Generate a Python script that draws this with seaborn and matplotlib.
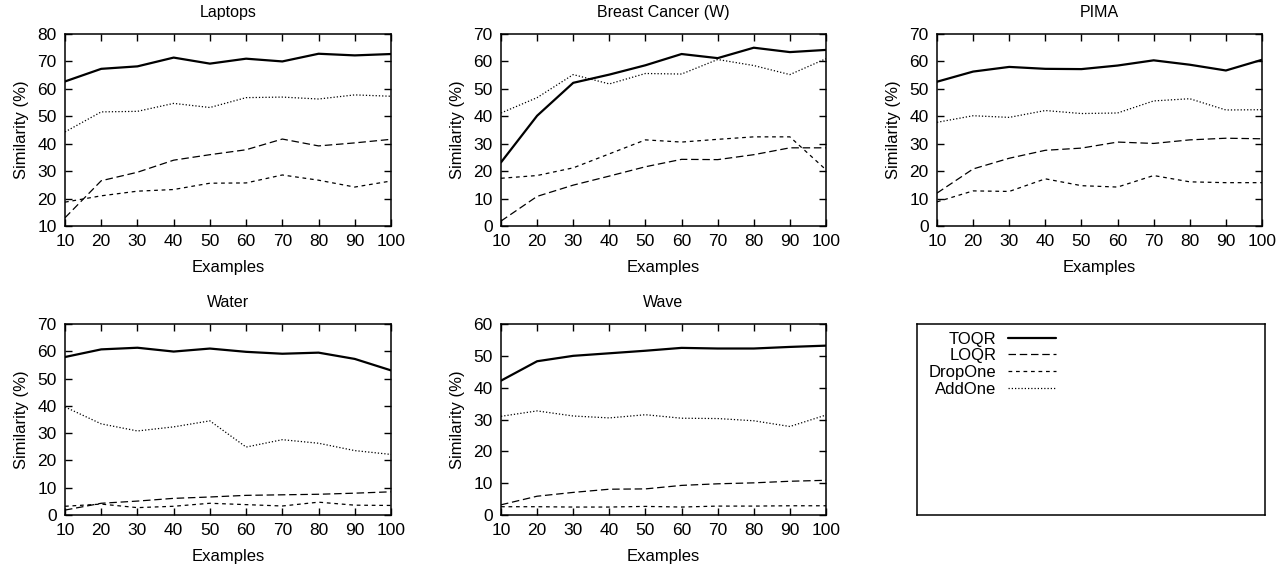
import pandas as pd
import seaborn as sns
import matplotlib.pyplot as plt
from matplotlib.lines import Line2D

examples = [10, 20, 30, 40, 50, 60, 70, 80, 90, 100]
methods = ['TOQR', 'LOQR', 'DropOne', 'AddOne']

# Laptops
laptops_toqr = [62.7, 67.3, 68.2, 71.4, 69.2, 71.0, 70.0, 72.8, 72.2, 72.7]
laptops_loqr = [13.0, 26.5, 29.6, 34.0, 36.0, 37.8, 41.7, 39.2, 40.3, 41.6]
laptops_dropone = [18.7, 21.0, 22.7, 23.3, 25.6, 25.7, 28.6, 26.7, 24.2, 26.4]
laptops_addone = [44.3, 51.6, 51.8, 54.7, 53.2, 56.8, 57.0, 56.3, 57.8, 57.3]

# Breast Cancer (W)
breast_toqr = [23.2, 40.2, 52.2, 55.2, 58.6, 62.7, 61.2, 65.0, 63.4, 64.2]
breast_loqr = [1.8, 10.8, 14.9, 18.2, 21.6, 24.3, 24.2, 26.0, 28.5, 28.5]
breast_dropone = [17.4, 18.4, 21.2, 26.3, 31.4, 30.6, 31.6, 32.5, 32.5, 20.5]
breast_addone = [41.2, 46.8, 55.2, 51.8, 55.6, 55.4, 60.7, 58.5, 55.2, 61.0]

# PIMA
pima_toqr = [52.6, 56.3, 58.0, 57.3, 57.2, 58.5, 60.4, 58.8, 56.7, 60.6]
pima_loqr = [12.0, 20.8, 24.7, 27.6, 28.4, 30.6, 30.1, 31.4, 32.0, 31.8]
pima_dropone = [8.8, 12.8, 12.6, 17.2, 14.7, 14.2, 18.4, 16.1, 15.8, 15.8]
pima_addone = [37.8, 40.2, 39.6, 42.1, 41.0, 41.2, 45.6, 46.4, 42.3, 42.4]

# Water
water_toqr = [57.9, 60.7, 61.3, 59.9, 61.0, 59.8, 59.1, 59.5, 57.2, 53.0]
water_loqr = [1.8, 4.3, 5.1, 6.1, 6.6, 7.2, 7.4, 7.6, 8.0, 8.5]
water_dropone = [3.2, 4.0, 2.7, 3.2, 4.3, 3.8, 3.3, 4.7, 3.6, 3.5]
water_addone = [39.6, 33.4, 30.8, 32.3, 34.5, 24.9, 27.6, 26.3, 23.6, 22.2]

# Wave
wave_toqr = [42.2, 48.3, 50.0, 50.8, 51.6, 52.5, 52.3, 52.3, 52.8, 53.2]
wave_loqr = [3.2, 5.9, 7.1, 8.1, 8.2, 9.3, 9.8, 10.1, 10.6, 10.9]
wave_dropone = [2.6, 2.6, 2.5, 2.5, 2.7, 2.5, 2.8, 2.8, 2.9, 2.9]
wave_addone = [31.0, 32.7, 31.1, 30.5, 31.5, 30.4, 30.3, 29.6, 27.8, 31.4]

panels = [
    ('Laptops', (10, 80), [laptops_toqr, laptops_loqr, laptops_dropone, laptops_addone]),
    ('Breast Cancer (W)', (0, 70), [breast_toqr, breast_loqr, breast_dropone, breast_addone]),
    ('PIMA', (0, 70), [pima_toqr, pima_loqr, pima_dropone, pima_addone]),
    ('Water', (0, 70), [water_toqr, water_loqr, water_dropone, water_addone]),
    ('Wave', (0, 60), [wave_toqr, wave_loqr, wave_dropone, wave_addone]),
]

sns.set_style('ticks', {'axes.edgecolor': 'black', 'text.color': 'black',
                        'xtick.color': 'black', 'ytick.color': 'black',
                        'axes.labelcolor': 'black'})
plt.rcParams['font.family'] = ['Liberation Sans', 'DejaVu Sans']
plt.rcParams['font.size'] = 10

dashes = {'TOQR': '', 'LOQR': (6, 3), 'DropOne': (3, 3), 'AddOne': (1, 1.6)}
widths = {'TOQR': 1.6, 'LOQR': 0.9, 'DropOne': 0.9, 'AddOne': 0.9}

fig = plt.figure(figsize=(12.88, 5.70), dpi=100)
W, H = 1288, 570
# axes boxes in pixels: left, top, right, bottom
boxes = [(65, 34, 391, 226), (501, 34, 826, 226), (937, 34, 1262, 226),
         (65, 324, 391, 515), (501, 324, 826, 515)]

for (title, ylim, series), (l, t, r, b) in zip(panels, boxes):
    ax = fig.add_axes([l / W, (H - b) / H, (r - l) / W, (b - t) / H])
    df = pd.DataFrame({'Examples': examples * 4,
                       'Similarity': sum(series, []),
                       'method': [m for m in methods for _ in examples]})
    for m in methods:
        sub = df[df['method'] == m]
        sns.lineplot(data=sub, x='Examples', y='Similarity', ax=ax, color='black',
                     lw=widths[m], legend=False)
        line = ax.lines[-1]
        if dashes[m]:
            line.set_dashes(dashes[m])
    ax.set_xlim(10, 100)
    ax.set_ylim(*ylim)
    ax.set_xticks(examples)
    ax.set_yticks(range(ylim[0], ylim[1] + 1, 10))
    ax.tick_params(direction='in', top=True, right=True, length=5, width=1,
                   labelsize=12.5, pad=6)
    for s in ax.spines.values():
        s.set_linewidth(1.1)
    ax.set_title(title, fontsize=11.5, pad=12)
    ax.set_xlabel('Examples', fontsize=12, labelpad=8)
    ax.set_ylabel('Similarity (%)', fontsize=12, labelpad=6)

# legend panel
l, t, r, b = 917, 324, 1265, 515
lax = fig.add_axes([l / W, (H - b) / H, (r - l) / W, (b - t) / H])
lax.set_xticks([])
lax.set_yticks([])
for s in lax.spines.values():
    s.set_linewidth(1.1)
handles = []
for m in methods:
    h = Line2D([0], [0], color='black', lw=widths[m])
    if dashes[m]:
        h.set_dashes(dashes[m])
    handles.append(h)
lax.legend(handles, methods, loc='upper left', bbox_to_anchor=(0.034, 0.96),
           markerfirst=False, frameon=False, borderpad=0, borderaxespad=0,
           handlelength=2.9, handletextpad=0.7, labelspacing=0.1, fontsize=12)

fig.savefig('out.png', dpi=100)
